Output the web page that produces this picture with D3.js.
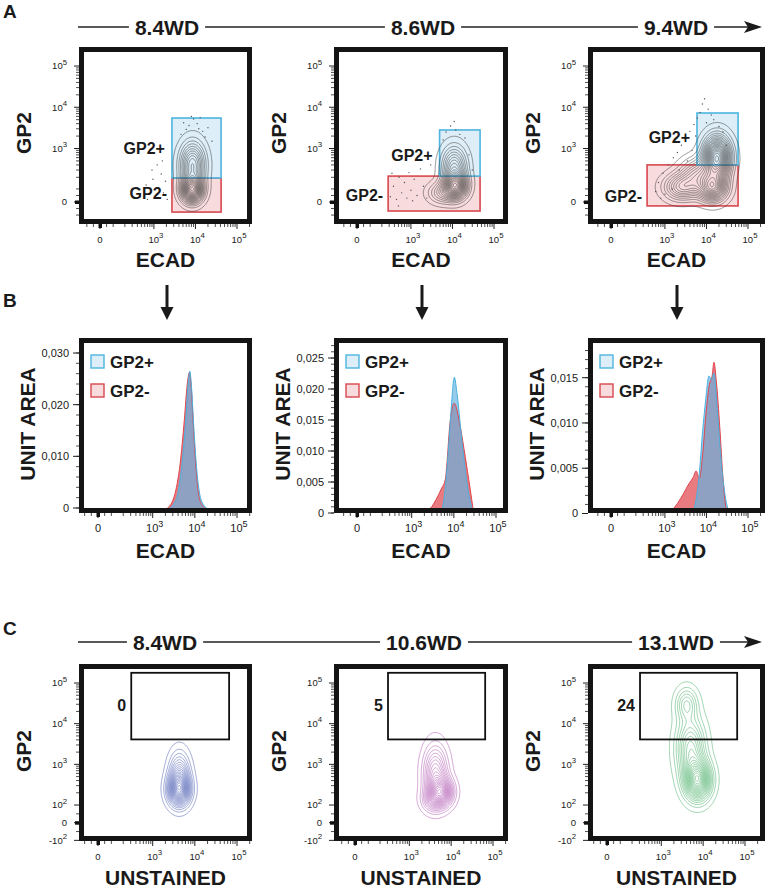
<!DOCTYPE html>
<html>
<head>
<meta charset="utf-8">
<script src="https://cdn.jsdelivr.net/npm/d3@7"></script>
<style>
  body { margin: 0; background: #fff; }
  svg { display: block; }
  text { font-family: "Liberation Sans", Arial, Helvetica, sans-serif; fill: #1a1a1a; }
</style>
</head>
<body>
<svg id="fig" width="769" height="891"></svg>
<script>
// ---------- data ----------
const daysA = ["8.4WD", "8.6WD", "9.4WD"];
const daysC = ["8.4WD", "10.6WD", "13.1WD"];
const logTicks = [0, 1e3, 1e4, 1e5];
const gp2TicksC = [-1e2, 0, 1e2, 1e3, 1e4, 1e5];
const unitTicks = [
  [0, 0.01, 0.02, 0.03],
  [0, 0.005, 0.01, 0.015, 0.02, 0.025],
  [0, 0.005, 0.01, 0.015]
];

// gates [xmin, xmax, ymin, ymax] in channel values
const gatePosA = [[2720, 41400, 193, 5480], [4900, 46200, 214, 2810], [5920, 57700, 400, 7250]];
const gateNegA = [[2720, 41400, -77, 193], [283, 46200, -69, 214], [372, 57700, -30, 400]];
const gateC = [310, 65000, 4100, 178000];
const gateCPct = ["0", "5", "24"];

// populations: [x centre, y centre, spread x, spread y (display units), weight]
const popsA = [
  [[8300, 92, 0.38, 0.45, 1], [8500, 400, 0.45, 0.8, 0.6]],
  [[11900, 122, 0.4, 0.45, 1], [11000, 350, 0.45, 0.75, 0.55], [5500, 70, 0.5, 0.38, 0.3]],
  [[18000, 590, 0.48, 0.75, 1], [14000, 110, 0.5, 0.5, 0.7], [2590, 115, 0.65, 0.48, 0.42], [6000, 250, 0.6, 0.55, 0.35]]
];
const popsC = [
  [[4220, 234, 0.38, 0.55, 1], [4300, 500, 0.36, 0.85, 0.6]],
  [[5800, 209, 0.4, 0.5, 1], [4200, 600, 0.42, 1.0, 0.6], [3500, 134, 0.38, 0.42, 0.3]],
  [[7400, 414, 0.45, 0.7, 1], [5000, 2500, 0.5, 1.1, 0.5], [4010, 30000, 0.38, 0.6, 0.3]]
];
const colorsC = ["#3f52ad", "#a84aab", "#38a65a"];

// outlier events
const dotsA = [
  [[5200,4200],[7000,3600],[9000,5200],[11000,4000],[12000,3000],[15000,2600],[20000,3200],[6000,2900],[4500,2200],[13000,5600],[8000,6000],[17000,1900],[25000,1500],[650,130],[800,60],[950,180],[1100,30],[1300,110],[1500,240],[1700,70],[1900,160],[2100,20],[1200,400],[900,300],[700,20],[1600,500]],
  [[320,40],[380,120],[450,20],[520,200],[600,70],[700,150],[800,30],[900,260],[1000,90],[1200,180],[1400,50],[1700,320],[2000,120],[2400,30],[3000,400],[350,250],[1100,10],[500,-30],[9000,3500],[12000,2800],[15000,2200],[7000,2500],[20000,1800],[11000,4500],[6000,1600],[25000,700],[30000,300]],
  [[9000,16000],[8000,12000],[11000,9000],[7000,7500],[13000,6500],[6000,5500],[15000,5000],[10000,4200],[5000,3800],[20000,3400],[4000,2600],[3000,1800],[2500,1200],[2000,800],[1600,600],[1200,400],[900,250],[700,150],[1500,100],[1000,60],[800,30],[2200,300],[3500,500],[4500,900],[25000,2500],[30000,1200],[600,80],[1800,1500],[5500,2000]]
];

// histograms: [log10 ECAD, unit area]
const histPos = [
  [[3.40,0],[3.50,0.0008],[3.60,0.003],[3.70,0.009],[3.78,0.0165],[3.84,0.024],[3.88,0.0265],[3.92,0.0235],[3.98,0.015],[4.05,0.007],[4.12,0.0025],[4.20,0.0007],[4.28,0]],
  [[3.70,0],[3.78,0.003],[3.88,0.011],[3.95,0.018],[4.01,0.0219],[4.08,0.019],[4.20,0.011],[4.32,0.0045],[4.40,0.0015],[4.48,0]],
  [[3.68,0],[3.82,0.004],[3.91,0.0092],[3.98,0.0125],[4.06,0.0152],[4.12,0.0148],[4.18,0.0155],[4.26,0.0115],[4.36,0.0055],[4.48,0.0012],[4.58,0]]
];
const histNeg = [
  [[3.35,0],[3.45,0.001],[3.55,0.0035],[3.65,0.0085],[3.75,0.017],[3.82,0.024],[3.87,0.0262],[3.91,0.024],[3.97,0.015],[4.04,0.0065],[4.10,0.0022],[4.18,0.0005],[4.24,0]],
  [[2.95,0],[3.0,0.0004],[3.15,0.0004],[3.25,0.0001],[3.45,0.0008],[3.58,0.0022],[3.71,0.004],[3.80,0.0055],[3.83,0.0075],[3.90,0.0139],[4.01,0.0177],[4.15,0.014],[4.27,0.0091],[4.38,0.0042],[4.47,0]],
  [[3.10,0],[3.30,0.0011],[3.46,0.0023],[3.58,0.0033],[3.68,0.004],[3.75,0.0047],[3.83,0.0039],[3.91,0.0066],[3.99,0.0111],[4.06,0.014],[4.14,0.0153],[4.18,0.0167],[4.24,0.0145],[4.32,0.0096],[4.40,0.0038],[4.48,0.0004],[4.53,0]]
];

// ---------- layout ----------
const COL_L = [79, 334, 588], COL_R = [252, 508, 765];
const ROW_A = { top: 47, bottom: 224, y0: 202, y5: 66 };
const ROW_B = { top: 338, bottom: 513 };
const ROW_C = { top: 664, bottom: 841, y0: 822.7, y5: 683 };
const X_ANCHOR_A = [[100, 237], [357, 494], [611, 748]];
const X_ANCHOR_B = [[98, 237], [357, 496], [611, 748]];
const X_ANCHOR_C = [[98, 237], [355, 493], [607, 745]];
const B_ANCHOR = [[508, 353], [513, 358], [513.5, 377.7]];
const GATE_LABEL_Y = [[154, 199], [161, 201], [143, 202]];
const HEAD_A = { y: 27, centers: [167, 423, 676] };
const HEAD_C = { y: 642, centers: [165, 424, 676] };

const svg = d3.select("#fig");
svg.append("rect").attr("width", 769).attr("height", 891).attr("fill", "#fff");

// biexponential-like display transform: linear below T, log above
function biex(T) {
  return v => {
    const a = Math.abs(v);
    const t = a <= T ? a / T : 1 + Math.log(a / T);
    return v < 0 ? -t : t;
  };
}
const tA = biex(137), tC = biex(100);

function dispScale(tf, px0, px5) {
  const lin = d3.scaleLinear().domain([0, tf(1e5)]).range([px0, px5]);
  const s = v => lin(tf(v));
  s.lin = lin; s.tf = tf;
  return s;
}

function logMinors(extra) {
  const out = extra.slice();
  for (let k = 2; k <= 5; k++) for (let m = 2; m <= 9; m++) out.push(m * Math.pow(10, k));
  return out;
}

function powLabel(sel, v, fs) {
  if (v === 0) { sel.text("0"); return; }
  const e = Math.round(Math.log10(Math.abs(v)));
  sel.append("tspan").text((v < 0 ? "-" : "") + "10");
  sel.append("tspan").attr("dy", -fs * 0.5).attr("font-size", fs * 0.82).text(e);
}

let clipN = 0;
function plotBox(left, top, right, bottom) {
  const id = "clip" + (clipN++);
  svg.append("clipPath").attr("id", id).append("rect")
    .attr("x", left + 2).attr("y", top + 2).attr("width", right - left - 4).attr("height", bottom - top - 4);
  const g = svg.append("g");
  const inner = g.append("g").attr("clip-path", `url(#${id})`);
  return { g, inner, left, top, right, bottom };
}

function frame(p) {
  p.g.append("rect")
    .attr("x", p.left + 2.5).attr("y", p.top + 2.5)
    .attr("width", p.right - p.left - 5).attr("height", p.bottom - p.top - 5)
    .attr("fill", "none").attr("stroke", "#141414").attr("stroke-width", 5);
}

function xAxisLog(p, sx, fs) {
  const ax = p.g.append("g");
  const inX = v => sx(v) > p.left + 2 && sx(v) < p.right - 2;
  logMinors([-100, -50, 50, 100]).filter(inX).forEach(v => {
    ax.append("line").attr("x1", sx(v)).attr("x2", sx(v)).attr("y1", p.bottom).attr("y2", p.bottom + 3)
      .attr("stroke", "#222").attr("stroke-width", 0.8);
  });
  logTicks.forEach(v => {
    ax.append("line").attr("x1", sx(v)).attr("x2", sx(v)).attr("y1", p.bottom).attr("y2", p.bottom + 5)
      .attr("stroke", "#222").attr("stroke-width", 1);
    const t = ax.append("text").attr("x", sx(v) + (v === 0 ? 0 : 2)).attr("y", p.bottom + 19)
      .attr("text-anchor", "middle").attr("font-size", fs);
    powLabel(t, v, fs);
  });
  ax.append("rect").attr("x", sx(0) - 1.5).attr("y", p.bottom).attr("width", 3.5).attr("height", 4).attr("fill", "#111");
}

function yAxisLog(p, sy, ticks, minors, fs) {
  const ax = p.g.append("g");
  const inY = v => sy(v) > p.top + 8 && sy(v) < p.bottom - 3;
  minors.filter(inY).forEach(v => {
    ax.append("line").attr("x1", p.left - 3).attr("x2", p.left).attr("y1", sy(v)).attr("y2", sy(v))
      .attr("stroke", "#222").attr("stroke-width", 0.8);
  });
  ticks.forEach(v => {
    ax.append("line").attr("x1", p.left - 5).attr("x2", p.left).attr("y1", sy(v)).attr("y2", sy(v))
      .attr("stroke", "#222").attr("stroke-width", 1);
    const t = ax.append("text").attr("x", p.left - 12).attr("y", sy(v)).attr("dy", "0.35em")
      .attr("text-anchor", "end").attr("font-size", fs);
    powLabel(t, v, fs);
  });
  ax.append("rect").attr("x", p.left - 4).attr("y", sy(0) - 1.5).attr("width", 4).attr("height", 3.5).attr("fill", "#111");
}

function contoursFor(p, comps, sx, sy, color, width) {
  const x0 = p.left, y0 = p.top;
  const nx = p.right - p.left, ny = p.bottom - p.top;
  const cs = comps.map(c => ({ tx: sx.tf(c[0]), ty: sy.tf(c[1]), sx: c[2], sy: c[3], w: c[4] }));
  const values = new Float64Array(nx * ny);
  for (let j = 0; j < ny; j++) {
    const ty = sy.lin.invert(y0 + j + 0.5);
    for (let i = 0; i < nx; i++) {
      const tx = sx.lin.invert(x0 + i + 0.5);
      let d = 0;
      cs.forEach(c => {
        const a = (tx - c.tx) / c.sx, b = (ty - c.ty) / c.sy;
        d += c.w * Math.exp(-0.5 * (a * a + b * b));
      });
      values[j * nx + i] = d;
    }
  }
  const mx = d3.max(values);
  const levels = d3.range(0.03, 1, 0.05).map(l => l * mx);
  const polys = d3.contours().size([nx, ny]).thresholds(levels)(values);
  const path = d3.geoPath(d3.geoIdentity().translate([x0, y0]));
  p.inner.append("g").selectAll("path").data(polys).join("path")
    .attr("d", path).attr("fill", "none").attr("stroke", color).attr("stroke-width", width)
    .attr("stroke-linejoin", "round");
}

function header(h, labels, startX, endX) {
  const texts = labels.map((l, i) => svg.append("text")
    .attr("x", h.centers[i]).attr("y", h.y + 8).attr("text-anchor", "middle")
    .attr("font-size", 21).attr("font-weight", "bold").text(l));
  let cur = startX;
  texts.forEach(t => {
    const b = t.node().getBBox();
    svg.append("line").attr("x1", cur).attr("x2", b.x - 6).attr("y1", h.y).attr("y2", h.y)
      .attr("stroke", "#222").attr("stroke-width", 1.3);
    cur = b.x + b.width + 6;
  });
  svg.append("line").attr("x1", cur).attr("x2", endX - 6).attr("y1", h.y).attr("y2", h.y)
    .attr("stroke", "#222").attr("stroke-width", 1.3);
  svg.append("path")
    .attr("d", `M${endX},${h.y} L${endX - 18},${h.y - 6} L${endX - 14},${h.y} L${endX - 18},${h.y + 6} Z`)
    .attr("fill", "#1a1a1a");
}

function panelLetter(l, y) {
  svg.append("text").attr("x", 3).attr("y", y).attr("font-size", 19).attr("font-weight", "bold").text(l);
}

function axisTitle(x, y, txt, rotate) {
  svg.append("text").attr("transform", `translate(${x},${y})` + (rotate ? " rotate(-90)" : ""))
    .attr("text-anchor", "middle").attr("dy", rotate ? "0.35em" : 0)
    .attr("font-size", 21).attr("font-weight", "bold").text(txt);
}

// ---------- panel A ----------
panelLetter("A", 18);
header(HEAD_A, daysA, 78, 762);
for (let c = 0; c < 3; c++) {
  const p = plotBox(COL_L[c], ROW_A.top, COL_R[c], ROW_A.bottom);
  const sx = dispScale(tA, X_ANCHOR_A[c][0], X_ANCHOR_A[c][1]);
  const sy = dispScale(tA, ROW_A.y0, ROW_A.y5);
  const gp = gatePosA[c], gn = gateNegA[c];
  p.inner.append("rect").attr("x", sx(gn[0])).attr("y", sy(gn[3])).attr("width", sx(gn[1]) - sx(gn[0]))
    .attr("height", sy(gn[2]) - sy(gn[3])).attr("fill", "#f8dcdd").attr("stroke", "#d8474f").attr("stroke-width", 1.6);
  p.inner.append("rect").attr("x", sx(gp[0])).attr("y", sy(gp[3])).attr("width", sx(gp[1]) - sx(gp[0]))
    .attr("height", sy(gp[2]) - sy(gp[3])).attr("fill", "#ddeef8").attr("stroke", "#4db5df").attr("stroke-width", 1.6);
  p.inner.append("g").selectAll("circle").data(dotsA[c]).join("circle")
    .attr("cx", d => sx(d[0])).attr("cy", d => sy(d[1])).attr("r", 0.7).attr("fill", "#555");
  contoursFor(p, popsA[c], sx, sy, "#3b3b3b", 0.55);
  p.g.append("text").attr("x", sx(gp[0]) - 7).attr("y", GATE_LABEL_Y[c][0]).attr("text-anchor", "end")
    .attr("font-size", 16).attr("font-weight", "bold").text("GP2+");
  p.g.append("text").attr("x", sx(gn[0]) - 5).attr("y", GATE_LABEL_Y[c][1]).attr("text-anchor", "end")
    .attr("font-size", 16).attr("font-weight", "bold").text("GP2-");
  xAxisLog(p, sx, 9.5);
  yAxisLog(p, sy, logTicks, logMinors([-100, -50, 50, 100]), 9.5);
  frame(p);
  axisTitle(COL_L[c] - 55, 133, "GP2", true);
  axisTitle((COL_L[c] + COL_R[c]) / 2, 267, "ECAD", false);
}

// arrows A -> B
[167, 422, 677].forEach(x => {
  svg.append("line").attr("x1", x).attr("x2", x).attr("y1", 285).attr("y2", 309)
    .attr("stroke", "#1a1a1a").attr("stroke-width", 3);
  svg.append("path").attr("d", `M${x - 6.5},307 L${x + 6.5},307 L${x},320 Z`).attr("fill", "#1a1a1a");
});

// ---------- panel B ----------
panelLetter("B", 307);
for (let c = 0; c < 3; c++) {
  const p = plotBox(COL_L[c], ROW_B.top, COL_R[c], ROW_B.bottom);
  const sx = dispScale(tA, X_ANCHOR_B[c][0], X_ANCHOR_B[c][1]);
  const ticks = unitTicks[c];
  const sy = d3.scaleLinear().domain([0, ticks[ticks.length - 1]]).range(B_ANCHOR[c]);
  const area = d3.area().x(d => sx(Math.pow(10, d[0]))).y0(sy(0)).y1(d => sy(d[1])).curve(d3.curveMonotoneX);
  const line = d3.line().x(d => sx(Math.pow(10, d[0]))).y(d => sy(d[1])).curve(d3.curveMonotoneX);
  p.inner.append("path").attr("d", area(histNeg[c])).attr("fill", "#e87a80");
  p.inner.append("path").attr("d", area(histPos[c])).attr("fill", "rgb(100,180,225)").attr("fill-opacity", 0.68);
  p.inner.append("path").attr("d", line(histNeg[c])).attr("fill", "none").attr("stroke", "#e0454e").attr("stroke-width", 1);
  p.inner.append("path").attr("d", line(histPos[c])).attr("fill", "none").attr("stroke", "#47b2df").attr("stroke-width", 1);

  // legend
  [["GP2+", "#ddeef8", "#4db5df"], ["GP2-", "#f8dcdd", "#d8474f"]].forEach((l, i) => {
    p.g.append("rect").attr("x", COL_L[c] + 12).attr("y", 355 + i * 29).attr("width", 13).attr("height", 13)
      .attr("fill", l[1]).attr("stroke", l[2]).attr("stroke-width", 1.4);
    p.g.append("text").attr("x", COL_L[c] + 31).attr("y", 368 + i * 29).attr("font-size", 17)
      .attr("font-weight", "bold").text(l[0]);
  });

  xAxisLog(p, sx, 11);
  // linear y axis
  const step = (ticks[1] - ticks[0]) / 5;
  d3.range(0, (sy.invert(p.top + 6)), step).forEach(v => {
    p.g.append("line").attr("x1", p.left - 3).attr("x2", p.left).attr("y1", sy(v)).attr("y2", sy(v))
      .attr("stroke", "#222").attr("stroke-width", 0.8);
  });
  ticks.forEach(v => {
    p.g.append("line").attr("x1", p.left - 6).attr("x2", p.left).attr("y1", sy(v)).attr("y2", sy(v))
      .attr("stroke", "#222").attr("stroke-width", 1);
    p.g.append("text").attr("x", p.left - 10).attr("y", sy(v)).attr("dy", "0.35em").attr("text-anchor", "end")
      .attr("font-size", 11).text(v === 0 ? "0" : d3.format(".3f")(v).replace(".", ","));
  });
  frame(p);
  axisTitle(COL_L[c] - 51, 424, "UNIT AREA", true);
  axisTitle((COL_L[c] + COL_R[c]) / 2, 558, "ECAD", false);
}

// ---------- panel C ----------
panelLetter("C", 635);
header(HEAD_C, daysC, 78, 762);
for (let c = 0; c < 3; c++) {
  const p = plotBox(COL_L[c], ROW_C.top, COL_R[c], ROW_C.bottom);
  const sx = dispScale(tA, X_ANCHOR_C[c][0], X_ANCHOR_C[c][1]);
  const sy = dispScale(tC, ROW_C.y0, ROW_C.y5);
  contoursFor(p, popsC[c], sx, sy, colorsC[c], 0.5);
  p.inner.append("rect").attr("x", sx(gateC[0])).attr("y", sy(gateC[3]))
    .attr("width", sx(gateC[1]) - sx(gateC[0])).attr("height", sy(gateC[2]) - sy(gateC[3]))
    .attr("fill", "none").attr("stroke", "#111").attr("stroke-width", 1.8);
  p.g.append("text").attr("x", sx(gateC[0]) - 5).attr("y", 711).attr("text-anchor", "end")
    .attr("font-size", 16).attr("font-weight", "bold").text(gateCPct[c]);
  xAxisLog(p, sx, 9.5);
  yAxisLog(p, sy, gp2TicksC, logMinors([-50, 50]), 9.5);
  frame(p);
  axisTitle(COL_L[c] - 55, 751, "GP2", true);
  axisTitle((COL_L[c] + COL_R[c]) / 2, 885, "UNSTAINED", false);
}
</script>
</body>
</html>
